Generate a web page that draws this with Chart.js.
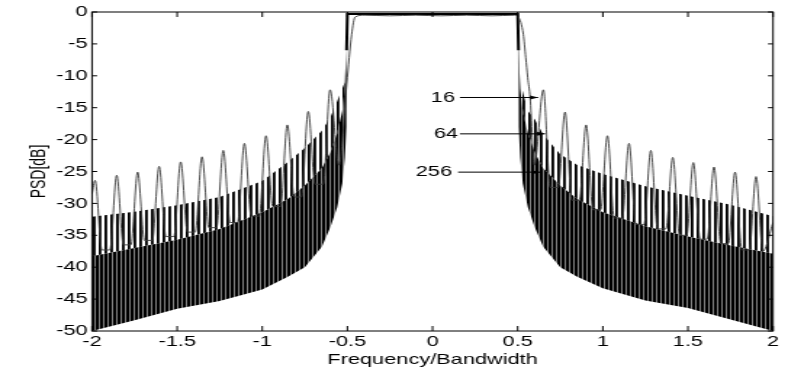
<!DOCTYPE html>
<html>
<head>
<meta charset="utf-8">
<title>PSD</title>
<script src="https://cdn.jsdelivr.net/npm/chart.js@4.4.1/dist/chart.umd.min.js"></script>
<style>
  html, body { margin: 0; padding: 0; background: #fff; overflow: hidden; }
  /* the source figure is a MATLAB plot stretched sideways: draw it narrow, then stretch */
  #wrap { width: 543px; height: 377px; transform: scaleX(1.4512); transform-origin: 0 0; }
</style>
</head>
<body>
<div id="wrap"><canvas id="psdChart" width="543" height="377"></canvas></div>
<script>
// N = 16 curve: sidelobe peaks and the flat dips between them
const freq16 = [-2.000, -1.982, -1.942, -1.895, -1.855, -1.815, -1.772, -1.732, -1.692, -1.646,
                -1.606, -1.566, -1.519, -1.479, -1.439, -1.394, -1.354, -1.314, -1.269, -1.229,
                -1.189, -1.145, -1.105, -1.065, -1.018, -0.978, -0.938, -0.893, -0.853, -0.813,
                -0.770, -0.730, -0.690, -0.642, -0.602, -0.550, -0.504, -0.475, -0.455, -0.400,
                -0.250, -0.100, 0.050, 0.200, 0.350, 0.480, 0.504, 0.533, 0.547, 0.559,
                0.573, 0.598, 0.651, 0.691, 0.738, 0.778, 0.818, 0.862, 0.902, 0.942,
                0.987, 1.027, 1.067, 1.114, 1.154, 1.194, 1.242, 1.282, 1.322, 1.371,
                1.411, 1.451, 1.492, 1.532, 1.572, 1.613, 1.653, 1.693, 1.737, 1.777,
                1.817, 1.860, 1.900, 1.940, 2.000];
const psd16 = [-28.5, -26.4, -37.3, -37.3, -25.6, -36.5, -36.5, -25.1, -35.8, -35.8,
               -24.2, -35.2, -35.2, -23.5, -34.5, -34.5, -22.7, -33.8, -33.8, -21.7,
               -33.0, -33.0, -20.6, -32.0, -32.0, -19.4, -30.5, -30.5, -17.7, -29.0,
               -29.0, -15.6, -27.0, -27.0, -12.2, -24.0, -11.3, -3.5, -0.8, -0.5,
               -0.6, -0.5, -0.6, -0.5, -0.6, -0.5, -0.8, -3.5, -7.1, -10.3,
               -13.4, -24.0, -12.2, -27.5, -27.5, -15.7, -29.5, -29.5, -17.7, -31.0,
               -31.0, -19.4, -32.3, -32.3, -20.6, -33.3, -33.3, -21.7, -34.0, -34.0,
               -22.8, -35.0, -35.0, -23.6, -35.6, -35.6, -24.3, -36.3, -36.3, -25.1,
               -37.3, -37.3, -25.8, -37.5, -33.0];

// N = 64 and N = 256 oscillate too densely to trace: keep their envelopes
const envFreq   = [-2, -1.75, -1.5, -1.25, -1.0, -0.85, -0.75, -0.65, -0.6, -0.56, -0.53, -0.515, -0.505, -0.5,
                   0.5, 0.505, 0.515, 0.53, 0.56, 0.6, 0.65, 0.75, 0.85, 1.0, 1.25, 1.5, 1.75, 2];
const top64     = [-32.1, -31.3, -30.3, -29.0, -26.5, -23.5, -21.3, -18.6, -16.5, -14.0, -12.0, -11.0, -4.0, -0.3,
                   -0.3, -4.0, -11.0, -12.5, -15.5, -16.8, -19.2, -22.3, -24.0, -25.4, -27.3, -28.8, -30.2, -32.0];
const top256    = [-38.3, -37.0, -35.7, -34.0, -31.4, -29.3, -27.2, -24.5, -22.0, -19.0, -15.5, -12.0, -6.0, -0.3,
                   -0.3, -6.0, -12.0, -15.5, -19.0, -22.0, -24.5, -27.2, -29.3, -31.4, -33.6, -35.2, -36.6, -37.9];
const bottom256 = [-50.0, -48.3, -46.5, -45.3, -43.5, -41.5, -40.0, -36.8, -33.7, -30.6, -26.9, -22.8, -18.0, -0.3,
                   -0.3, -18.0, -22.8, -26.9, -30.6, -33.7, -36.8, -40.0, -41.5, -43.3, -45.2, -46.4, -48.2, -50.0];

// arrow labels for the three curves
const noteText  = ['16', '64', '256'];
const noteLevel = [-13.4, -19.1, -25.1];
const noteTextX = [0.132, 0.150, 0.115];
const noteStart = [0.161, 0.161, 0.150];
const noteEnd   = [0.620, 0.661, 0.631];

const toPoints = (xs, ys) => xs.map((x, i) => ({ x: x, y: ys[i] }));

const canvas = document.getElementById('psdChart');

// vertical hatching, like the dense sidelobes in the original
function stripes(cols) {
  const c = document.createElement('canvas');
  c.width = cols.length; c.height = 1;
  const g = c.getContext('2d');
  cols.forEach((col, i) => { if (col) { g.fillStyle = col; g.fillRect(i, 0, 1, 1); } });
  return canvas.getContext('2d').createPattern(c, 'repeat');
}
const dense  = stripes(['#000', '#000', '#808080']);
const sparse = stripes(['#000', 'rgba(0,0,0,0.85)', null, null]);

// MATLAB style box with inward ticks on all four sides
const frame = {
  id: 'frame',
  afterDraw(chart) {
    const { ctx, chartArea: a, scales: { x, y } } = chart;
    ctx.save();
    ctx.strokeStyle = '#000';
    ctx.lineWidth = 1;
    ctx.strokeRect(a.left, a.top, a.right - a.left, a.bottom - a.top);
    ctx.beginPath();
    x.ticks.forEach(t => {
      const px = x.getPixelForValue(t.value);
      ctx.moveTo(px, a.bottom); ctx.lineTo(px, a.bottom - 5);
      ctx.moveTo(px, a.top); ctx.lineTo(px, a.top + 5);
    });
    y.ticks.forEach(t => {
      const py = y.getPixelForValue(t.value);
      ctx.moveTo(a.left, py); ctx.lineTo(a.left + 3.5, py);
      ctx.moveTo(a.right, py); ctx.lineTo(a.right - 3.5, py);
    });
    ctx.stroke();
    ctx.restore();
  }
};

const arrowNotes = {
  id: 'arrowNotes',
  afterDatasetsDraw(chart) {
    const { ctx, scales: { x, y } } = chart;
    ctx.save();
    ctx.fillStyle = '#000';
    ctx.strokeStyle = '#000';
    ctx.lineWidth = 1;
    ctx.font = '15px "Liberation Sans", Arial, sans-serif';
    ctx.textAlign = 'right';
    ctx.textBaseline = 'middle';
    noteText.forEach((t, i) => {
      const py = y.getPixelForValue(noteLevel[i]);
      const x0 = x.getPixelForValue(noteStart[i]);
      const x1 = x.getPixelForValue(noteEnd[i]);
      ctx.fillText(t, x.getPixelForValue(noteTextX[i]), py);
      ctx.beginPath(); ctx.moveTo(x0, py); ctx.lineTo(x1, py); ctx.stroke();
      ctx.beginPath();
      ctx.moveTo(x1, py); ctx.lineTo(x1 - 5.5, py - 2); ctx.lineTo(x1 - 5.5, py + 2);
      ctx.closePath(); ctx.fill();
    });
    ctx.restore();
  }
};

Chart.defaults.font.family = '"Liberation Sans", Arial, sans-serif';
Chart.defaults.color = '#000';

new Chart(canvas, {
  type: 'line',
  data: {
    datasets: [
      { label: '16', data: toPoints(freq16, psd16), borderColor: '#3a3a3a', borderWidth: 0.9,
        pointRadius: 0, cubicInterpolationMode: 'monotone', fill: false, order: 0 },
      { label: '64', data: toPoints(envFreq, top64), borderColor: 'rgba(0,0,0,0)', borderWidth: 0,
        backgroundColor: sparse, fill: '+1', pointRadius: 0, order: 2 },
      { label: '256', data: toPoints(envFreq, top256), borderColor: '#000', borderWidth: 2,
        backgroundColor: dense, fill: '+1', pointRadius: 0, order: 3,
        segment: {
          borderColor: c => (Math.abs(c.p0.parsed.x) <= 0.505 && Math.abs(c.p1.parsed.x) <= 0.505) ? '#000' : 'rgba(0,0,0,0)'
        } },
      { label: '256 low', data: toPoints(envFreq, bottom256), borderColor: 'rgba(0,0,0,0)', borderWidth: 0,
        pointRadius: 0, fill: false, order: 3 }
    ]
  },
  options: {
    responsive: false,
    animation: false,
    devicePixelRatio: 1,
    layout: { padding: { top: 11, right: 10.3, left: 0, bottom: 0 } },
    plugins: { legend: { display: false }, tooltip: { enabled: false } },
    scales: {
      x: {
        type: 'linear', min: -2, max: 2,
        grid: { display: false, drawTicks: false }, border: { display: false },
        ticks: { stepSize: 0.5, maxRotation: 0, autoSkip: false, padding: 2, font: { size: 15 },
                 callback: v => String(Math.round(v * 10) / 10) },
        title: { display: true, text: 'Frequency/Bandwidth', font: { size: 15 }, padding: { top: 0, bottom: 8 } },
        afterFit: s => { s.height = 46; }
      },
      y: {
        min: -50, max: 0,
        grid: { display: false, drawTicks: false }, border: { display: false },
        ticks: { stepSize: 5, padding: 3, font: { size: 15 }, callback: v => String(v) },
        title: { display: true, text: 'PSD[dB]', font: { size: 14 }, padding: { top: 19, bottom: 0 } },
        afterFit: s => { s.width = 63.4; }
      }
    }
  },
  plugins: [arrowNotes, frame]
});
</script>
</body>
</html>
